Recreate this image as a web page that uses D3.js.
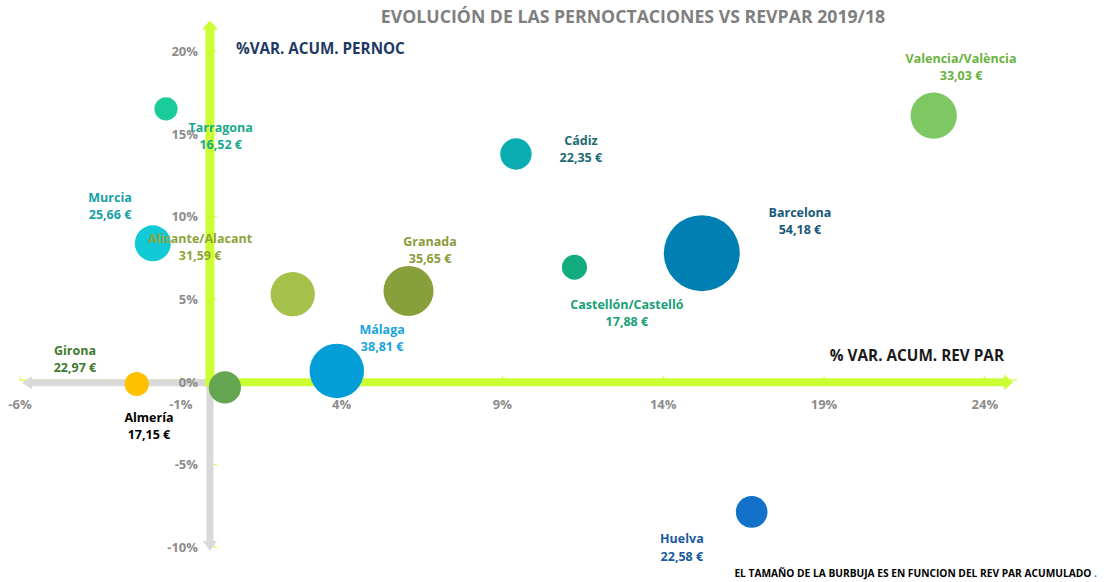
<!DOCTYPE html>
<html>
<head>
<meta charset="utf-8">
<script src="https://cdn.jsdelivr.net/npm/d3@7"></script>
<style>
  html, body { margin: 0; padding: 0; background: #fff; }
  svg { display: block; font-family: "Open Sans", Lato, sans-serif; }
</style>
</head>
<body>
<svg id="chart" width="1104" height="582"></svg>
<script>
// ---- data ----
const provinces = ["Tarragona", "Cádiz", "Valencia/València", "Murcia", "Alicante/Alacant", "Granada",
                   "Castellón/Castelló", "Barcelona", "Málaga", "Girona", "Almería", "Huelva"];
const varRevpar = [-1.46, 9.42, 22.41, -1.87, 2.48, 6.08, 11.24, 15.2, 3.85, 0.37, -2.37, 16.75];
const varPernoc = [16.5, 13.77, 16.09, 8.37, 5.29, 5.49, 6.92, 7.77, 0.65, -0.35, -0.14, -7.88];
const revparAcum = [16.52, 22.35, 33.03, 25.66, 31.59, 35.65, 17.88, 54.18, 38.81, 22.97, 17.15, 22.58];
const bubbleColors = ["#1bcc9b", "#0aacb2", "#7dc862", "#12cad6", "#a6c14a", "#87a03c",
                      "#12ac7f", "#0080b2", "#039dd8", "#63a550", "#ffc000", "#1271c8"];
const labelColors = ["#17a98a", "#1b6b73", "#6ab33e", "#17a0a6", "#8ea43a", "#8a9c3a",
                     "#18a078", "#17587a", "#1aa3e0", "#3f7a2e", "#000000", "#1a5aa0"];
// label offsets (in axis units: % points) relative to bubble
const labelDx = [1.7, 2.02, 0.85, -1.33, -2.88, 0.67, 1.63, 3.05, 1.41, -4.66, 0.38, -2.17];
const labelDy = [-1.39, 0.55, 3.19, 2.5, 3.1, 2.72, -2.52, 2.19, 2.24, 1.97, -2.29, -1.88];
const xTicks = [-6, -1, 4, 9, 14, 19, 24];
const yTicks = [-10, -5, 0, 5, 10, 15, 20];
const title = "EVOLUCIÓN DE LAS PERNOCTACIONES VS REVPAR 2019/18";
const yTitle = "%VAR. ACUM. PERNOC";
const xTitle = "% VAR. ACUM. REV PAR";
const footnote = "EL TAMAÑO DE LA BURBUJA ES EN FUNCION DEL REV PAR ACUMULADO";

const fmtEuro = v => v.toFixed(2).replace(".", ",") + " €";

const svg = d3.select("#chart");
const x = d3.scaleLinear().domain([-6, 25]).range([20, 1017]);
const y = d3.scaleLinear().domain([-10, 20]).range([547, 51]);
const r = d3.scaleLinear().domain([0, 54.18]).range([0, 38]);

const GREEN = "#ccff33", GRAY = "#d9d9d9";

// thin axis lines (Excel axes)
svg.append("line").attr("x1", x(-6)).attr("x2", x(25)).attr("y1", y(0) - 1.5).attr("y2", y(0) - 1.5)
  .attr("stroke", GREEN).attr("stroke-width", 1.2);
svg.append("line").attr("x1", x(0) - 1).attr("x2", x(0) - 1).attr("y1", y(20)).attr("y2", y(-10))
  .attr("stroke", GREEN).attr("stroke-width", 1.2);
// tick marks
svg.selectAll(".xtk").data(xTicks).join("line")
  .attr("x1", d => x(d)).attr("x2", d => x(d)).attr("y1", y(0) - 6).attr("y2", y(0) - 1.5)
  .attr("stroke", GREEN).attr("stroke-width", 1);
svg.selectAll(".ytk").data(yTicks).join("line")
  .attr("x1", x(0) - 1).attr("x2", x(0) + 4).attr("y1", d => y(d)).attr("y2", d => y(d))
  .attr("stroke", GREEN).attr("stroke-width", 1);

// gray arrows (negative halves)
const cx0 = x(0) - 3, cy0 = y(0) + 1;
svg.append("path")
  .attr("d", `M${cx0},${cy0 - 3.5} L${x(-6) + 12},${cy0 - 3.5} L${x(-6) + 12},${cy0 - 6.5} L${x(-6) + 2},${cy0} L${x(-6) + 12},${cy0 + 6.5} L${x(-6) + 12},${cy0 + 3.5} L${cx0},${cy0 + 3.5} Z`)
  .attr("fill", GRAY);
svg.append("path")
  .attr("d", `M${cx0 - 3.5},${cy0} L${cx0 - 3.5},${y(-10) - 6} L${cx0 - 7},${y(-10) - 6} L${cx0},${y(-10) + 4} L${cx0 + 7},${y(-10) - 6} L${cx0 + 3.5},${y(-10) - 6} L${cx0 + 3.5},${cy0} Z`)
  .attr("fill", GRAY);

// green arrows (positive halves)
const gy = y(0) + 0.5;
svg.append("path")
  .attr("d", `M${cx0 - 4.5},${gy + 4} L${cx0 - 4.5},${y(21.3)} L${cx0 - 8},${y(21.3)} L${cx0},${y(21.3) - 9} L${cx0 + 8},${y(21.3)} L${cx0 + 4.5},${y(21.3)} L${cx0 + 4.5},${gy + 4} Z`)
  .attr("fill", GREEN);
svg.append("path")
  .attr("d", `M${cx0 - 4.5},${gy - 4} L${x(24.6)},${gy - 4} L${x(24.6)},${gy - 8} L${x(24.6) + 9},${gy} L${x(24.6)},${gy + 8} L${x(24.6)},${gy + 4} L${cx0 - 4.5},${gy + 4} Z`)
  .attr("fill", GREEN);

// tick labels
const tickStyle = sel => sel.attr("fill", "#8c8c8c").attr("font-size", 13).attr("font-weight", "bold");
svg.selectAll(".xlab").data(xTicks).join("text")
  .attr("x", d => x(d)).attr("y", y(0) + 27).attr("text-anchor", "middle")
  .text(d => d + "%").call(tickStyle);
svg.selectAll(".ylab").data(yTicks).join("text")
  .attr("x", 198).attr("y", d => y(d) + 5).attr("text-anchor", "end")
  .text(d => d + "%").call(tickStyle);

// bubbles
const data = provinces.map((p, i) => ({ p, xv: varRevpar[i], yv: varPernoc[i], s: revparAcum[i], c: bubbleColors[i], lc: labelColors[i], dx: labelDx[i], dy: labelDy[i] }));
svg.selectAll(".bub").data(data).join("circle")
  .attr("cx", d => x(d.xv)).attr("cy", d => y(d.yv)).attr("r", d => r(d.s))
  .attr("fill", d => d.c);

// data labels
const lab = svg.selectAll(".lab").data(data).join("text")
  .attr("text-anchor", "middle").attr("font-size", 12.5).attr("font-weight", "bold")
  .attr("fill", d => d.lc);
lab.append("tspan").attr("x", d => x(d.xv + d.dx)).attr("y", d => y(d.yv + d.dy)).text(d => d.p);
lab.append("tspan").attr("x", d => x(d.xv + d.dx)).attr("dy", 17.5).text(d => fmtEuro(d.s));

// titles
svg.append("text").attr("x", 633).attr("y", 23).attr("text-anchor", "middle")
  .attr("font-size", 17.7).attr("font-weight", "bold").attr("fill", "#7f7f7f").text(title);
svg.append("text").attr("x", 236).attr("y", 54)
  .attr("font-size", 15.2).attr("font-weight", "bold").attr("fill", "#1f3864").text(yTitle);
svg.append("text").attr("x", 1004).attr("y", 361).attr("text-anchor", "end")
  .attr("font-size", 15.3).attr("font-weight", "bold").attr("fill", "#1a1a1a").text(xTitle);
const fn = svg.append("text").attr("x", 1097).attr("y", 577).attr("text-anchor", "end")
  .attr("font-size", 10.2).attr("font-weight", "bold").attr("fill", "#000");
fn.append("tspan").text(footnote + " ");
fn.append("tspan").attr("fill", "#2e75b6").text(".");
</script>
</body>
</html>
